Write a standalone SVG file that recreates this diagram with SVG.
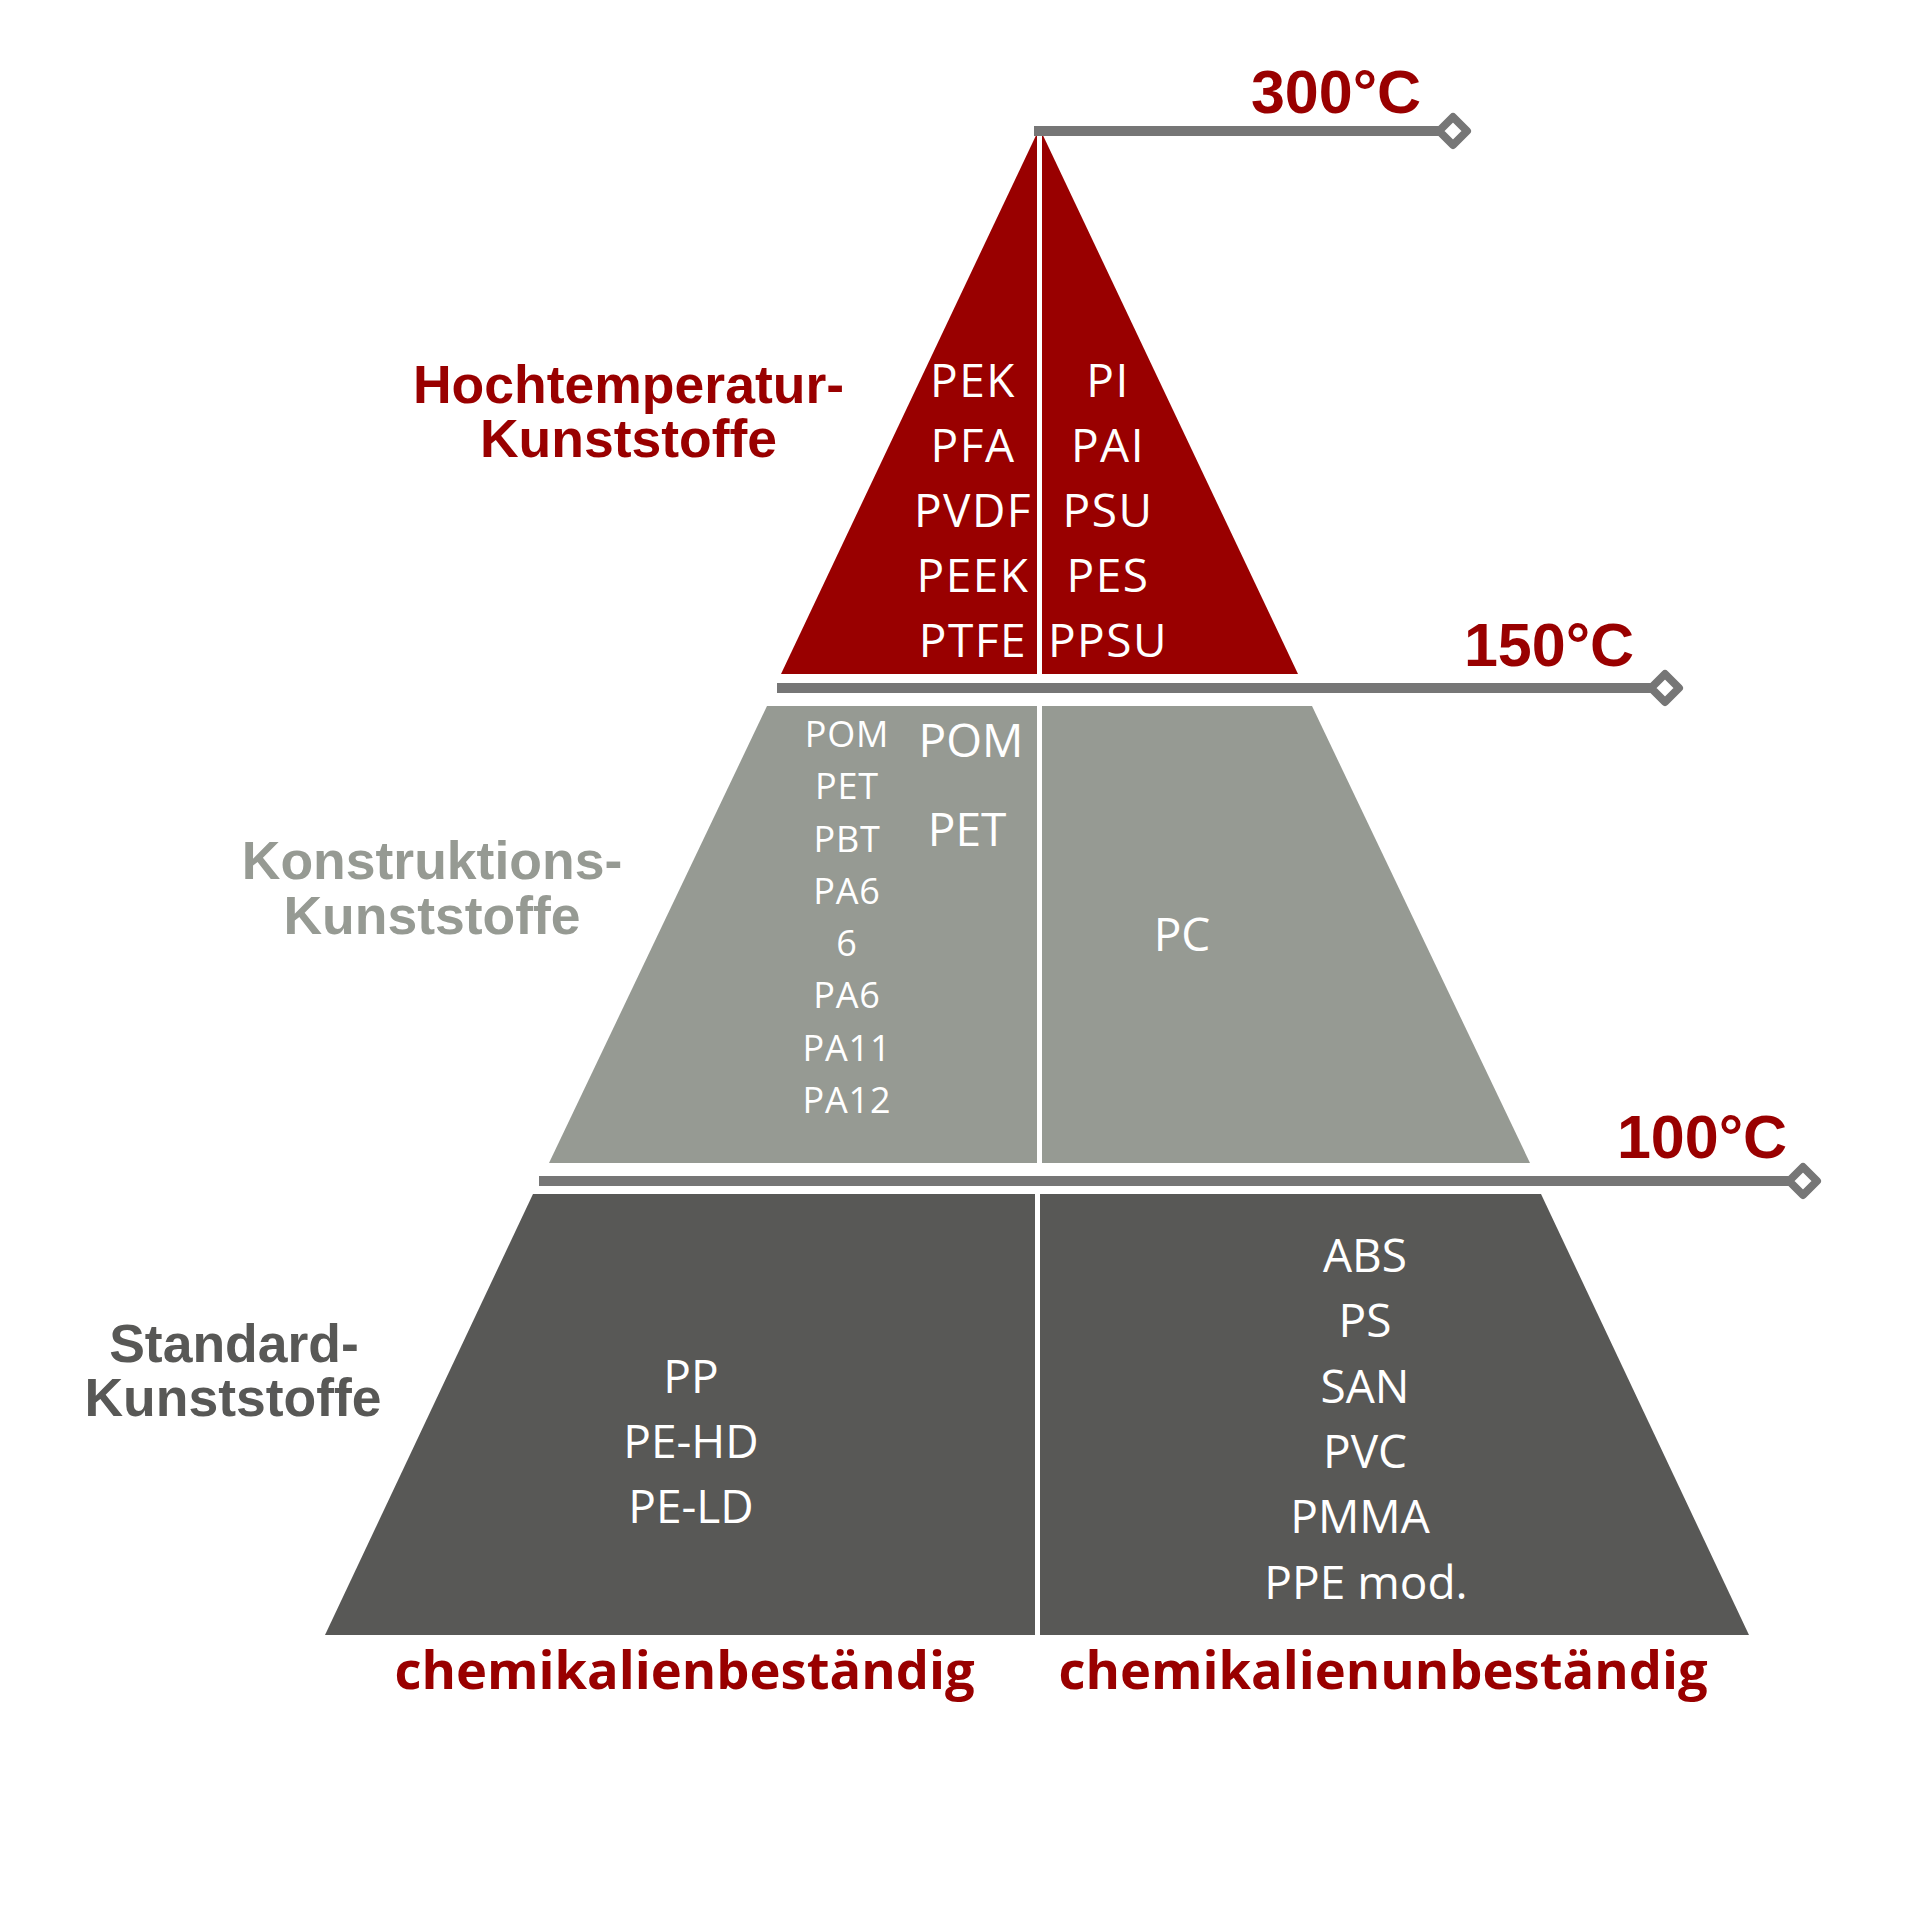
<svg xmlns="http://www.w3.org/2000/svg" width="1920" height="1920" viewBox="0 0 1920 1920">
<style>
.lbl{font-family:"Open Sans","Noto Sans","DejaVu Sans",sans-serif;fill:#ffffff;text-anchor:middle}
.big{font-size:46px}
.sml{font-size:36px}
.head{font-family:"Liberation Sans",Arial,sans-serif;font-weight:bold;font-size:53.5px;text-anchor:middle}
.temp{font-family:"Liberation Sans",Arial,sans-serif;font-weight:bold;font-size:61px;fill:#990000;text-anchor:middle}
.chem{font-family:"Open Sans","Noto Sans",sans-serif;font-weight:bold;font-size:52.5px;fill:#990000;text-anchor:middle}
.tline{stroke:#767676;stroke-width:10;fill:none}
.dia{stroke:#767676;stroke-width:8;fill:#ffffff;stroke-linejoin:round}
.div{stroke:#ffffff;stroke-width:5}
</style>
<rect width="1920" height="1920" fill="#ffffff"/>
<g id="hochtemperatur">
<polygon points="1039.5,128 1298,674 781,674" fill="#990000"/>
<line class="div" x1="1039.5" y1="128" x2="1039.5" y2="676"/>
<g class="lbl big" letter-spacing="1.5">
<text x="973" y="397">PEK</text>
<text x="973" y="462">PFA</text>
<text x="973" y="527">PVDF</text>
<text x="973" y="592">PEEK</text>
<text x="973" y="657">PTFE</text>
<text x="1108" y="397">PI</text>
<text x="1108" y="462">PAI</text>
<text x="1108" y="527">PSU</text>
<text x="1108" y="592">PES</text>
<text x="1108" y="657">PPSU</text>
</g>
<text class="head" fill="#990000"><tspan x="628.5" y="403">Hochtemperatur-</tspan><tspan x="628.5" y="457">Kunststoffe</tspan></text>
</g>
<g id="konstruktion">
<polygon points="767,706 1312,706 1530,1163 549,1163" fill="#969a93"/>
<line class="div" x1="1039.5" y1="704" x2="1039.5" y2="1165"/>
<g class="lbl sml" letter-spacing="0.8">
<text x="847" y="747">POM</text>
<text x="847" y="799">PET</text>
<text x="847" y="852">PBT</text>
<text x="847" y="904">PA6</text>
<text x="847" y="956">6</text>
<text x="847" y="1008">PA6</text>
<text x="847" y="1061">PA11</text>
<text x="847" y="1113">PA12</text>
</g>
<g class="lbl big">
<text x="971" y="757">POM</text>
<text x="967" y="846">PET</text>
<text x="1182" y="951">PC</text>
</g>
<text class="head" fill="#969a93"><tspan x="432" y="879">Konstruktions-</tspan><tspan x="432" y="934">Kunststoffe</tspan></text>
</g>
<g id="standard">
<polygon points="533,1194 1541,1194 1749,1635 325,1635" fill="#585856"/>
<line class="div" x1="1037.5" y1="1192" x2="1037.5" y2="1637"/>
<g class="lbl big">
<text x="691" y="1393">PP</text>
<text x="691" y="1458">PE-HD</text>
<text x="691" y="1523">PE-LD</text>
<text x="1365" y="1272">ABS</text>
<text x="1365" y="1337">PS</text>
<text x="1365" y="1403">SAN</text>
<text x="1365" y="1468">PVC</text>
<text x="1360" y="1533">PMMA</text>
<text x="1366" y="1599">PPE mod.</text>
</g>
<text class="head" fill="#585856"><tspan x="234" y="1362">Standard-</tspan><tspan x="233" y="1416">Kunststoffe</tspan></text>
</g>
<g id="connectors">
<line class="tline" x1="1034" y1="131" x2="1441" y2="131"/>
<path class="dia" d="M1439,131 L1453,117 L1467,131 L1453,145 Z"/>
<line class="tline" x1="777" y1="688" x2="1653" y2="688"/>
<path class="dia" d="M1651,688 L1665,674 L1679,688 L1665,702 Z"/>
<line class="tline" x1="539" y1="1181" x2="1791" y2="1181"/>
<path class="dia" d="M1789,1181 L1803,1167 L1817,1181 L1803,1195 Z"/>
</g>
<g id="temperatures">
<text class="temp" x="1336" y="113">300°C</text>
<text class="temp" x="1549" y="666">150°C</text>
<text class="temp" x="1702" y="1158">100°C</text>
</g>
<g id="axis-labels">
<text class="chem" x="684.5" y="1689">chemikalienbeständig</text>
<text class="chem" x="1383" y="1689">chemikalienunbeständig</text>
</g>
</svg>
